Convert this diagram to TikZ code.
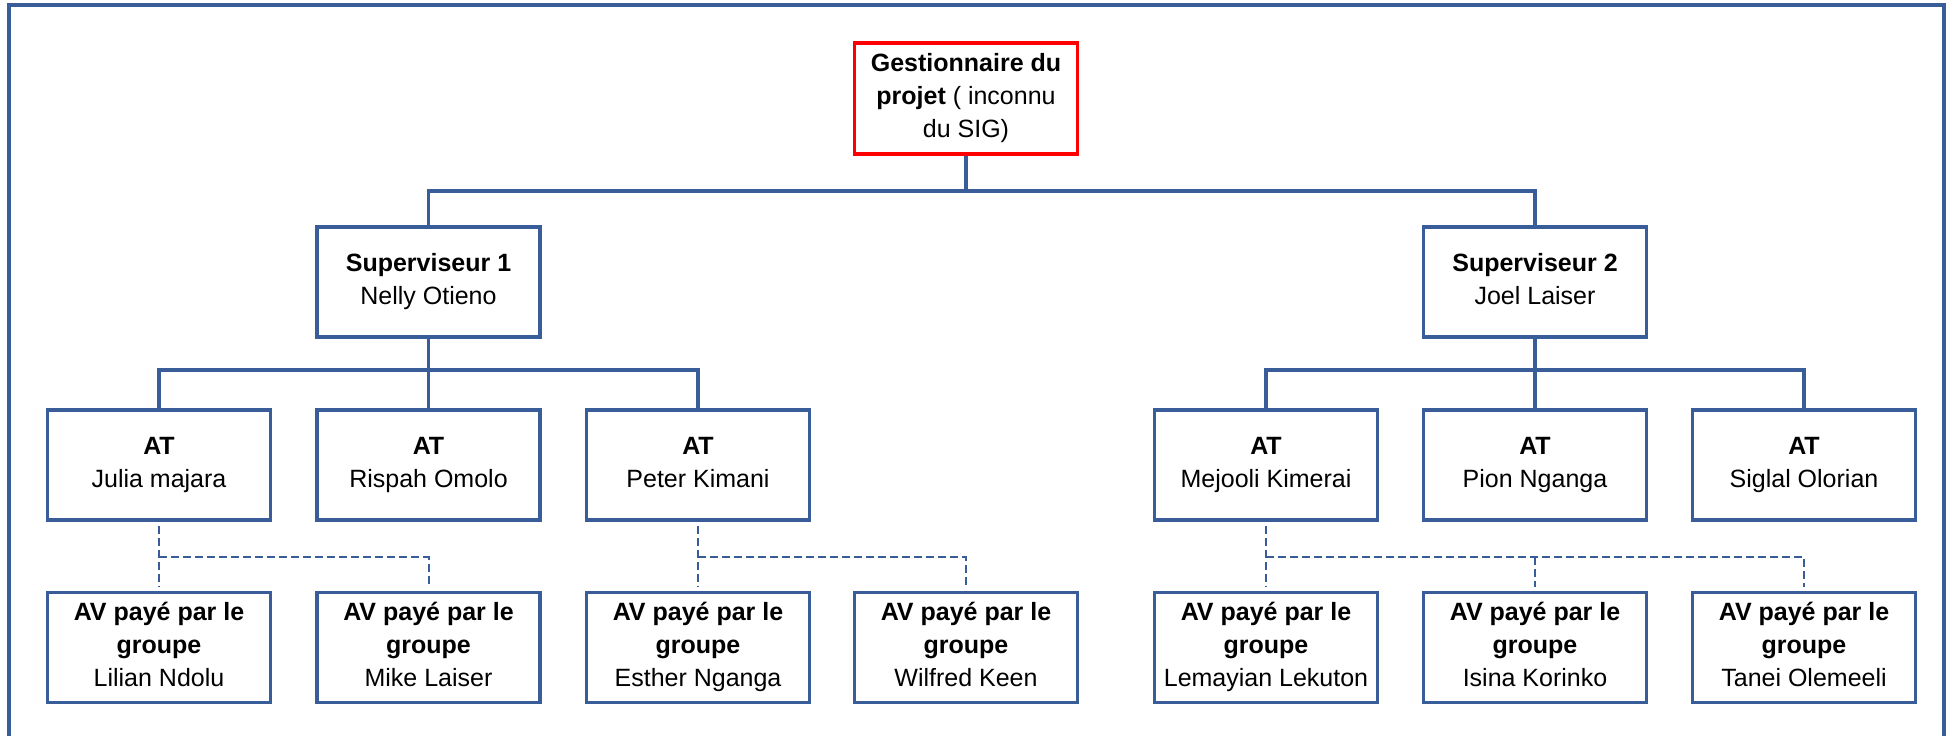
\documentclass[tikz,border=0pt]{standalone}
\usepackage{fontspec}
\setmainfont{Liberation Sans}
\definecolor{orgblue}{RGB}{56,93,153}
\definecolor{orgred}{RGB}{255,0,0}

\begin{document}
\begin{tikzpicture}[x=0.5pt,y=0.5pt,yscale=-1,xscale=1,
  box/.style={draw=orgblue, line width=1.6pt, minimum width=111.5pt, minimum height=55pt,
    inner sep=0pt, align=center, font=\fontsize{12.5}{16.5}\selectfont,
    execute at begin node=\rule{0pt}{13.5pt}, execute at end node=\rule[-3pt]{0pt}{3pt}},
  link/.style={draw=orgblue, line width=1.6pt},
  dlink/.style={draw=orgblue, line width=1pt, dash pattern={on 4pt off 2pt}}]
\useasboundingbox (0,0) rectangle (1946,735);
%Shape: Frame (open at the bottom)
\draw [draw=orgblue, line width=2pt]  (9,760) -- (9,5) -- (1944,5) -- (1944,760) ;

%Shape: Rectangle  (manager)
\node [box, draw=orgred, line width=1.7pt, minimum height=55.5pt] (mgr) at (966,98.5)
  {\textbf{Gestionnaire du}\\\textbf{projet} ( inconnu\\du SIG)};
%Shape: Rectangle  (supervisors)
\node [box] (sup1) at (428.5,282) {\textbf{Superviseur 1}\\Nelly Otieno};
\node [box] (sup2) at (1535,282) {\textbf{Superviseur 2}\\Joel Laiser};

%Shape: Rectangle  (AT row)
\node [box] (at1) at (159,465) {\textbf{AT}\\Julia majara};
\node [box] (at2) at (428.5,465) {\textbf{AT}\\Rispah Omolo};
\node [box] (at3) at (698,465) {\textbf{AT}\\Peter Kimani};
\node [box] (at4) at (1266,465) {\textbf{AT}\\Mejooli Kimerai};
\node [box] (at5) at (1535,465) {\textbf{AT}\\Pion Nganga};
\node [box] (at6) at (1804,465) {\textbf{AT}\\Siglal Olorian};

%Shape: Rectangle  (AV row)
\node [box] (av1) at (159,647.5) {\textbf{AV payé par le}\\\textbf{groupe}\\Lilian Ndolu};
\node [box] (av2) at (428.5,647.5) {\textbf{AV payé par le}\\\textbf{groupe}\\Mike Laiser};
\node [box] (av3) at (698,647.5) {\textbf{AV payé par le}\\\textbf{groupe}\\Esther Nganga};
\node [box] (av4) at (966,647.5) {\textbf{AV payé par le}\\\textbf{groupe}\\Wilfred Keen};
\node [box] (av5) at (1266,647.5) {\textbf{AV payé par le}\\\textbf{groupe}\\Lemayian Lekuton};
\node [box] (av6) at (1535,647.5) {\textbf{AV payé par le}\\\textbf{groupe}\\Isina Korinko};
\node [box] (av7) at (1804,647.5) {\textbf{AV payé par le}\\\textbf{groupe}\\Tanei Olemeeli};

%Bus points
\coordinate (bus0) at (966,191);
\coordinate (bus1) at (428.5,370);
\coordinate (bus2) at (1535,370);
\coordinate (dsh1) at (159,557);
\coordinate (dsh2) at (698,557);
\coordinate (dsh3) at (1266,557);
\coordinate (dsh4) at (1535,557);

%Straight Lines  (solid links)
\draw [link]  (mgr.south) -- (bus0) ;
\draw [link]  (sup1.north) |- (bus0) -| (sup2.north) ;
\draw [link]  (sup1.south) -- (at2.north) ;
\draw [link]  (at1.north) |- (bus1) -| (at3.north) ;
\draw [link]  (sup2.south) -- (at5.north) ;
\draw [link]  (at4.north) |- (bus2) -| (at6.north) ;

%Straight Lines  (dashed links)
\draw [dlink, shorten <=2pt, shorten >=2pt]  (at1.south) -- (av1.north) ;
\draw [dlink, shorten >=2pt]  (dsh1) -| (av2.north) ;
\draw [dlink, shorten <=2pt, shorten >=2pt]  (at3.south) -- (av3.north) ;
\draw [dlink, shorten >=2pt]  (dsh2) -| (av4.north) ;
\draw [dlink, shorten <=2pt, shorten >=2pt]  (at4.south) -- (av5.north) ;
\draw [dlink, shorten >=2pt]  (dsh3) -| (av7.north) ;
\draw [dlink, shorten >=2pt]  (dsh4) -- (av6.north) ;
\end{tikzpicture}
\end{document}
